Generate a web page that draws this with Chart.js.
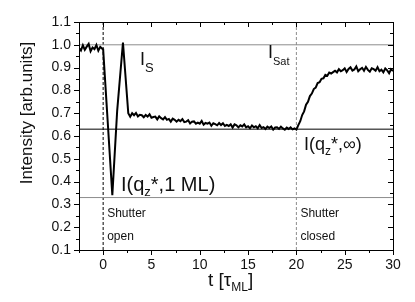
<!DOCTYPE html>
<html>
<head>
<meta charset="utf-8">
<script src="https://cdn.jsdelivr.net/npm/chart.js@4.4.1/dist/chart.umd.min.js"></script>
<style>
html,body{margin:0;padding:0;background:#fff;}
#wrap{width:415px;height:302px;position:relative;}
</style>
</head>
<body>
<div id="wrap"><canvas id="c" width="415" height="302"></canvas></div>
<script>
// ---- data ----
const tBefore = [-2.5,-2.3,-2.1,-1.9,-1.7,-1.5,-1.3,-1.1,-0.9,-0.7,-0.5,-0.3,-0.1];
const iBefore = [0.985,0.975,0.998,0.978,0.992,1.004,0.972,0.988,0.981,0.999,0.974,0.991,0.983];

const tOscillation = [0.0,0.95,1.45,2.05,2.6,2.8];
const iOscillation = [0.98,0.34,0.71,1.01,0.70,0.685];

const tGrowth = [3.0,3.2,3.4,3.6,3.8,4.0,4.2,4.4,4.6,4.8,5.0,5.2,5.4,5.6,5.8,6.0,6.2,6.4,6.6,6.8,
  7.0,7.2,7.4,7.6,7.8,8.0,8.2,8.4,8.6,8.8,9.0,9.2,9.4,9.6,9.8,10.0,10.2,10.4,10.6,10.8,
  11.0,11.2,11.4,11.6,11.8,12.0,12.2,12.4,12.6,12.8,13.0,13.2,13.4,13.6,13.8,14.0,14.2,14.4,14.6,14.8,
  15.0,15.2,15.4,15.6,15.8,16.0,16.2,16.4,16.6,16.8,17.0,17.2,17.4,17.6,17.8,18.0,18.2,18.4,18.6,18.8,
  19.0,19.2,19.4,19.6,19.8,20.0];
const iGrowth = [0.700,0.691,0.701,0.686,0.693,0.691,0.682,0.692,0.685,0.695,0.680,0.683,0.685,0.673,0.686,0.678,0.673,0.683,0.671,0.675,
  0.663,0.676,0.671,0.663,0.671,0.665,0.674,0.661,0.663,0.669,0.655,0.663,0.664,0.654,0.659,0.654,0.666,0.650,0.657,0.654,
  0.659,0.645,0.656,0.652,0.647,0.657,0.648,0.656,0.644,0.649,0.644,0.651,0.637,0.651,0.647,0.638,0.647,0.642,0.651,0.638,
  0.643,0.634,0.646,0.638,0.643,0.634,0.648,0.635,0.639,0.631,0.641,0.635,0.642,0.628,0.637,0.638,0.631,0.641,0.633,0.628,
  0.637,0.631,0.638,0.629,0.633,0.628];

const tRecovery = [20.2,20.4,20.6,20.8,21.0,21.2,21.4,21.6,21.8,22.0,22.2,22.4,22.6,22.8,23.0,23.2,23.4,23.6,23.8,24.0,
  24.2,24.4,24.6,24.8,25.0,25.2,25.4,25.6,25.8,26.0,26.2,26.4,26.6,26.8,27.0,27.2,27.4,27.6,27.8,28.0,
  28.2,28.4,28.6,28.8,29.0,29.2,29.4,29.6,29.8,30.0];
const iRecovery = [0.648,0.665,0.692,0.708,0.737,0.750,0.775,0.786,0.806,0.812,0.832,0.836,0.851,0.853,0.868,0.864,0.878,0.874,0.880,0.886,
  0.879,0.893,0.884,0.889,0.897,0.881,0.894,0.901,0.887,0.892,0.905,0.884,0.893,0.899,0.886,0.903,0.890,0.882,0.897,0.893,
  0.886,0.902,0.884,0.891,0.879,0.896,0.888,0.875,0.893,0.885];

const levelSat = 1.0;      // I_S / I_Sat
const levelInf = 0.63;     // I(qz*,inf)
const level1ML = 0.33;     // I(qz*,1 ML)
const shutterOpen = 0;
const shutterClosed = 20;

const xMin = -2.5, xMax = 30, yMin = 0.1, yMax = 1.1;
const xTickLabels = [0,5,10,15,20,25,30];
const yTickLabels = [0.1,0.2,0.3,0.4,0.5,0.6,0.7,0.8,0.9,1.0,1.1];

// ---- build datasets ----
const curve = [];
[[tBefore,iBefore],[tOscillation,iOscillation],[tGrowth,iGrowth],[tRecovery,iRecovery]].forEach(([ts,is])=>{
  ts.forEach((t,k)=>curve.push({x:t,y:is[k]}));
});
function hLine(v,color){return {data:[{x:xMin,y:v},{x:xMax,y:v}],borderColor:color,borderWidth:1,pointRadius:0,showLine:true,order:2};}
function vLine(v,color){return {data:[{x:v,y:yMin},{x:v,y:yMax}],borderColor:color,borderWidth:1,borderDash:[3,2],pointRadius:0,showLine:true,order:2};}

const FONT = '"Liberation Sans", Arial, Helvetica, sans-serif';

function drawRich(ctx,x,y,parts){
  let cx=x;
  parts.forEach(p=>{
    ctx.font = p[1]+'px '+FONT;
    ctx.fillText(p[0],cx,y+(p[2]||0));
    cx += ctx.measureText(p[0]).width;
  });
}

const decor = {
  id:'decor',
  afterDraw(chart){
    const ctx=chart.ctx, xs=chart.scales.x, ys=chart.scales.y, a=chart.chartArea;
    ctx.save();
    ctx.strokeStyle='#000'; ctx.lineWidth=1;
    // frame
    ctx.strokeRect(Math.round(a.left)+0.5,Math.round(a.top)+0.5,Math.round(a.right-a.left),Math.round(a.bottom-a.top));
    ctx.beginPath();
    for(let k=0;k<=13;k++){
      const v=xMin+2.5*k; const px=Math.round(xs.getPixelForValue(v))+0.5;
      const major = Math.abs(v/5-Math.round(v/5))<1e-6; const L = major?5:3;
      ctx.moveTo(px,a.bottom); ctx.lineTo(px,a.bottom+L);
      ctx.moveTo(px,a.top); ctx.lineTo(px,a.top+L);
    }
    for(let k=0;k<=20;k++){
      const v=yMin+0.05*k; const py=Math.round(ys.getPixelForValue(v))+0.5;
      const major = k%2===0; const L = major?5:3;
      ctx.moveTo(a.left,py); ctx.lineTo(a.left-L,py);
      ctx.moveTo(a.right,py); ctx.lineTo(a.right-L,py);
    }
    ctx.stroke();
    // axis titles
    ctx.fillStyle='#111';
    ctx.textBaseline='alphabetic';
    ctx.save();
    ctx.translate(32,113); ctx.rotate(-Math.PI/2);
    ctx.font='17px '+FONT; ctx.textAlign='center';
    ctx.fillText('Intensity [arb.units]',0,0);
    ctx.restore();
    ctx.textAlign='left';
    drawRich(ctx,208,286,[['t [\u03C4',19],['ML',12,5],[']',19]]);
    // annotations
    drawRich(ctx,140,65,[['I',18],['S',13,7]]);
    drawRich(ctx,268,58,[['I',18],['Sat',11,7]]);
    drawRich(ctx,121,191,[['I(q',20],['z',13,5],['*,1 ML)',20]]);
    drawRich(ctx,304,150,[['I(q',18],['z',12,5],['*,\u221E)',18]]);
    ctx.font='12px '+FONT;
    ctx.fillText('Shutter',xs.getPixelForValue(shutterOpen)+4,217);
    ctx.fillText('open',xs.getPixelForValue(shutterOpen)+4,240);
    ctx.fillText('Shutter',xs.getPixelForValue(shutterClosed)+4,217);
    ctx.fillText('closed',xs.getPixelForValue(shutterClosed)+4,240);
    ctx.restore();
  }
};

new Chart(document.getElementById('c'),{
  type:'scatter',
  data:{datasets:[
    {data:curve,borderColor:'#000',borderWidth:2,pointRadius:0,showLine:true,tension:0,order:1},
    hLine(levelSat,'#8c8c8c'),
    hLine(levelInf,'#000'),
    hLine(level1ML,'#8c8c8c'),
    vLine(shutterOpen,'#000'),
    vLine(shutterClosed,'#8c8c8c')
  ]},
  options:{
    responsive:false,animation:false,
    layout:{padding:{left:0,right:22,top:22,bottom:0}},
    plugins:{legend:{display:false},tooltip:{enabled:false}},
    scales:{
      x:{type:'linear',min:xMin,max:xMax,
        afterFit(s){s.height=52;},
        afterBuildTicks(s){s.ticks=xTickLabels.map(v=>({value:v}));},
        grid:{display:true,drawOnChartArea:false,color:'transparent',tickLength:5},
        border:{display:false},
        ticks:{padding:2,color:'#111',font:{family:FONT,size:14},maxRotation:0,callback:v=>String(v)}},
      y:{type:'linear',min:yMin,max:yMax,
        afterFit(s){s.width=79;},
        afterBuildTicks(s){s.ticks=yTickLabels.map(v=>({value:v}));},
        grid:{display:true,drawOnChartArea:false,color:'transparent',tickLength:5},
        border:{display:false},
        ticks:{padding:3,color:'#111',font:{family:FONT,size:14},callback:v=>Number(v).toFixed(1)}}
    }
  },
  plugins:[decor]
});
</script>
</body>
</html>
